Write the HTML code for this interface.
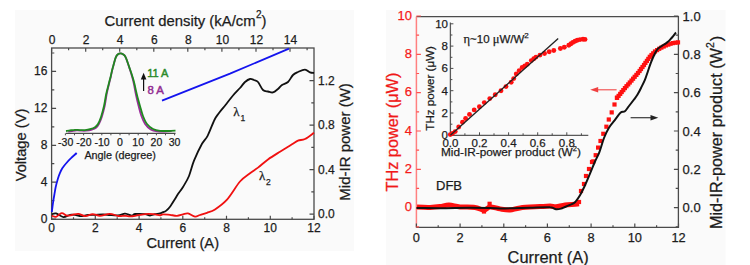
<!DOCTYPE html>
<html><head><meta charset="utf-8"><style>
html,body{margin:0;padding:0;background:#fff;}
svg{display:block;}
text{font-family:'Liberation Sans', sans-serif;stroke-width:0.25px;}
</style></head><body>
<svg width="750" height="265" viewBox="0 0 750 265">
<rect width="750" height="265" fill="#ffffff"/>
<rect x="15" y="10" width="339" height="241" fill="#fafafa"/>
<rect x="386" y="10" width="339.5" height="255" fill="#fafafa"/>
<rect x="51.6" y="48.0" width="262.4" height="171.3" fill="none" stroke="#4a4a4a" stroke-width="1.3"/>
<path d="M51.6,219.3 v-3.5 M73.5,219.3 v-2.0 M95.3,219.3 v-3.5 M117.2,219.3 v-2.0 M139.1,219.3 v-3.5 M160.9,219.3 v-2.0 M182.8,219.3 v-3.5 M204.7,219.3 v-2.0 M226.5,219.3 v-3.5 M248.4,219.3 v-2.0 M270.3,219.3 v-3.5 M292.1,219.3 v-2.0 M314.0,219.3 v-3.5 M51.6,48.0 v3.7 M68.6,48.0 v2.2 M85.7,48.0 v3.7 M102.7,48.0 v2.2 M119.7,48.0 v3.7 M136.8,48.0 v2.2 M153.8,48.0 v3.7 M170.8,48.0 v2.2 M187.8,48.0 v3.7 M204.9,48.0 v2.2 M221.9,48.0 v3.7 M238.9,48.0 v2.2 M256.0,48.0 v3.7 M273.0,48.0 v2.2 M290.0,48.0 v3.7 M307.1,48.0 v2.2 M51.6,219.1 h4.5 M51.6,200.6 h2.7 M51.6,182.2 h4.5 M51.6,163.7 h2.7 M51.6,145.3 h4.5 M51.6,126.8 h2.7 M51.6,108.3 h4.5 M51.6,89.9 h2.7 M51.6,71.4 h4.5 M51.6,53.0 h2.7 M314.0,214.2 h-4.5 M314.0,191.9 h-2.7 M314.0,169.7 h-4.5 M314.0,147.4 h-2.7 M314.0,125.2 h-4.5 M314.0,102.9 h-2.7 M314.0,80.7 h-4.5" stroke="#4a4a4a" stroke-width="1.2" fill="none"/>
<text x="51.6" y="232.3" font-size="12" text-anchor="middle" fill="#1c1c1c" stroke="#1c1c1c" >0</text>
<text x="95.3" y="232.3" font-size="12" text-anchor="middle" fill="#1c1c1c" stroke="#1c1c1c" >2</text>
<text x="139.1" y="232.3" font-size="12" text-anchor="middle" fill="#1c1c1c" stroke="#1c1c1c" >4</text>
<text x="182.8" y="232.3" font-size="12" text-anchor="middle" fill="#1c1c1c" stroke="#1c1c1c" >6</text>
<text x="226.5" y="232.3" font-size="12" text-anchor="middle" fill="#1c1c1c" stroke="#1c1c1c" >8</text>
<text x="270.3" y="232.3" font-size="12" text-anchor="middle" fill="#1c1c1c" stroke="#1c1c1c" >10</text>
<text x="314.0" y="232.3" font-size="12" text-anchor="middle" fill="#1c1c1c" stroke="#1c1c1c" >12</text>
<text x="52.1" y="43.8" font-size="12" text-anchor="middle" fill="#1c1c1c" stroke="#1c1c1c" >0</text>
<text x="86.2" y="43.8" font-size="12" text-anchor="middle" fill="#1c1c1c" stroke="#1c1c1c" >2</text>
<text x="120.2" y="43.8" font-size="12" text-anchor="middle" fill="#1c1c1c" stroke="#1c1c1c" >4</text>
<text x="154.3" y="43.8" font-size="12" text-anchor="middle" fill="#1c1c1c" stroke="#1c1c1c" >6</text>
<text x="188.3" y="43.8" font-size="12" text-anchor="middle" fill="#1c1c1c" stroke="#1c1c1c" >8</text>
<text x="222.4" y="43.8" font-size="12" text-anchor="middle" fill="#1c1c1c" stroke="#1c1c1c" >10</text>
<text x="256.5" y="43.8" font-size="12" text-anchor="middle" fill="#1c1c1c" stroke="#1c1c1c" >12</text>
<text x="290.5" y="43.8" font-size="12" text-anchor="middle" fill="#1c1c1c" stroke="#1c1c1c" >14</text>
<text x="47.4" y="222.8" font-size="12" text-anchor="end" fill="#1c1c1c" stroke="#1c1c1c" >0</text>
<text x="47.4" y="185.9" font-size="12" text-anchor="end" fill="#1c1c1c" stroke="#1c1c1c" >4</text>
<text x="47.4" y="149.0" font-size="12" text-anchor="end" fill="#1c1c1c" stroke="#1c1c1c" >8</text>
<text x="47.4" y="112.0" font-size="12" text-anchor="end" fill="#1c1c1c" stroke="#1c1c1c" >12</text>
<text x="47.4" y="75.1" font-size="12" text-anchor="end" fill="#1c1c1c" stroke="#1c1c1c" >16</text>
<text x="318.0" y="218.2" font-size="12" text-anchor="start" fill="#1c1c1c" stroke="#1c1c1c" >0.0</text>
<text x="318.0" y="173.7" font-size="12" text-anchor="start" fill="#1c1c1c" stroke="#1c1c1c" >0.4</text>
<text x="318.0" y="129.2" font-size="12" text-anchor="start" fill="#1c1c1c" stroke="#1c1c1c" >0.8</text>
<text x="318.0" y="84.7" font-size="12" text-anchor="start" fill="#1c1c1c" stroke="#1c1c1c" >1.2</text>
<text x="104.6" y="25.8" font-size="14.85" text-anchor="start" fill="#1c1c1c" stroke="#1c1c1c" >Current density (kA/cm<tspan font-size="10" dy="-7.6" dx="0.4">2</tspan><tspan dy="7.6" dx="0">)</tspan></text>
<text x="146.4" y="247.6" font-size="14.7" text-anchor="start" fill="#1c1c1c" stroke="#1c1c1c" >Current (A)</text>
<text transform="translate(26.3,145) rotate(-90)" font-size="14.7" text-anchor="middle" fill="#1c1c1c" stroke="#1c1c1c">Voltage (V)</text>
<text transform="translate(350.3,200.7) rotate(-90)" font-size="15" text-anchor="start" fill="#1c1c1c" stroke="#1c1c1c">Mid-IR power (W)</text>
<path d="M51.8,212.2 C52.0,210.7 52.6,205.9 53.0,203.0 C53.4,200.1 53.8,197.7 54.3,195.0 C54.8,192.3 55.1,189.7 55.7,187.0 C56.3,184.3 57.1,181.4 57.8,179.0 C58.5,176.6 59.2,174.6 60.0,172.8 C60.8,171.0 61.3,169.9 62.3,168.3 C63.3,166.8 64.5,165.2 66.0,163.5 C67.5,161.8 69.2,159.9 71.0,158.2 C72.8,156.4 75.8,153.9 76.7,153.0" stroke="#1414ee" stroke-width="1.8" fill="none"/>
<path d="M162,100.6 L230,73.7 L289,48.6" stroke="#1414ee" stroke-width="1.8" fill="none"/>
<path d="M51.8,214.3 C52.5,214.2 54.0,212.9 56.0,213.4 C58.0,213.9 61.2,216.9 63.5,217.1 C65.8,217.3 67.9,215.1 70.0,214.8 C72.1,214.5 74.2,214.9 76.0,215.1 C77.8,215.3 79.0,216.1 81.0,216.1 C83.0,216.1 85.7,215.2 88.0,215.0 C90.3,214.8 92.5,214.9 95.0,214.8 C97.5,214.7 100.5,214.4 103.0,214.4 C105.5,214.4 107.5,214.8 110.0,215.0 C112.5,215.2 115.5,215.6 118.0,215.4 C120.5,215.2 123.0,213.8 124.7,213.6 C126.4,213.4 126.8,214.0 128.0,214.3 C129.2,214.7 130.8,215.8 132.0,215.7 C133.2,215.7 132.8,214.3 135.0,214.0 C137.2,213.7 142.5,213.9 145.0,214.1 C147.5,214.4 148.3,215.5 150.0,215.5 C151.7,215.5 153.3,214.6 155.0,214.2 C156.7,213.9 158.7,213.7 160.0,213.4 C161.3,213.1 162.0,212.6 163.0,212.2 C164.0,211.8 164.8,211.8 166.0,210.9 C167.2,210.0 168.5,208.8 170.0,206.8 C171.5,204.8 173.7,201.1 175.0,199.0 C176.3,196.9 176.7,196.0 178.0,194.0 C179.3,192.0 181.2,190.0 183.0,187.0 C184.8,184.0 187.2,180.4 189.0,176.0 C190.8,171.6 191.8,166.1 194.0,160.7 C196.2,155.3 199.7,148.0 202.0,143.8 C204.3,139.7 205.5,139.8 207.6,135.8 C209.7,131.8 212.5,123.8 214.4,120.0 C216.3,116.2 217.2,115.5 219.0,113.0 C220.8,110.5 223.2,107.9 225.5,105.0 C227.8,102.1 230.6,98.3 233.0,95.5 C235.4,92.7 238.0,90.2 240.0,88.0 C242.0,85.8 243.3,83.5 245.0,82.0 C246.7,80.5 248.5,79.3 250.0,79.0 C251.5,78.7 252.7,79.5 254.0,80.0 C255.3,80.5 256.5,80.3 258.0,82.0 C259.5,83.7 261.3,88.4 263.0,90.0 C264.7,91.6 266.3,91.1 268.0,91.5 C269.7,91.9 271.3,92.8 273.0,92.4 C274.7,92.0 276.5,90.2 278.0,89.0 C279.5,87.8 280.3,86.2 282.0,85.0 C283.7,83.8 286.2,83.7 288.0,82.0 C289.8,80.3 291.3,76.7 293.0,75.0 C294.7,73.3 296.0,72.9 298.0,72.0 C300.0,71.1 303.0,69.5 305.0,69.6 C307.0,69.7 308.5,71.8 310.0,72.4 C311.5,73.0 313.3,72.9 314.0,73.0" stroke="#111" stroke-width="1.8" fill="none"/>
<path d="M51.8,215.6 C52.5,215.8 54.4,217.2 56.0,216.8 C57.6,216.4 59.9,213.3 61.7,213.1 C63.5,212.9 65.3,215.3 67.0,215.6 C68.7,215.9 70.1,215.3 72.0,215.0 C73.9,214.7 76.1,213.6 78.3,213.8 C80.5,214.0 82.8,216.1 85.2,216.1 C87.6,216.2 90.2,214.2 92.7,214.1 C95.2,214.1 97.2,215.9 100.0,215.8 C102.8,215.8 106.7,213.8 109.7,213.8 C112.8,213.8 115.8,215.7 118.3,216.0 C120.8,216.3 123.0,215.7 125.0,215.7 C127.0,215.8 128.3,216.3 130.0,216.3 C131.7,216.3 133.3,216.1 135.0,215.8 C136.7,215.6 137.8,215.1 140.0,214.8 C142.2,214.5 145.5,213.9 148.0,213.8 C150.5,213.7 153.0,214.1 155.0,214.3 C157.0,214.6 158.7,215.3 160.0,215.3 C161.3,215.3 161.3,214.4 163.0,214.3 C164.7,214.2 167.7,214.6 170.0,214.8 C172.3,215.1 174.8,215.9 177.0,215.8 C179.2,215.7 181.2,214.7 183.0,214.3 C184.8,213.9 186.0,213.0 188.0,213.4 C190.0,213.8 193.0,216.3 195.0,216.6 C197.0,216.9 198.0,215.6 200.0,215.0 C202.0,214.4 204.5,213.7 207.0,212.8 C209.5,211.9 211.7,211.6 215.0,209.4 C218.3,207.2 222.8,204.2 227.0,199.6 C231.2,194.9 236.2,185.9 240.0,181.5 C243.8,177.1 247.0,175.5 250.0,173.2 C253.0,170.9 255.0,169.9 258.0,167.6 C261.0,165.3 264.3,162.1 268.0,159.4 C271.7,156.8 276.0,154.2 280.0,151.7 C284.0,149.2 289.0,146.2 292.0,144.3 C295.0,142.5 295.8,141.5 298.0,140.6 C300.2,139.7 302.3,140.3 305.0,139.0 C307.7,137.7 312.5,133.8 314.0,132.7" stroke="#f01010" stroke-width="1.8" fill="none"/>
<text x="233.3" y="116.3" font-size="13" fill="#1c1c1c" stroke="#1c1c1c" ><tspan style="font-family:Liberation Serif">λ</tspan><tspan font-size="8.5" dy="4.8" dx="0.9">1</tspan></text>
<text x="259.0" y="180.2" font-size="13" fill="#1c1c1c" stroke="#1c1c1c" ><tspan style="font-family:Liberation Serif">λ</tspan><tspan font-size="8.5" dy="4.9" dx="0.6">2</tspan></text>
<path d="M66,133.3 H175.5" stroke="#4a4a4a" stroke-width="1.2"/>
<path d="M65.4,133.3 v2 M74.5,133.3 v2 M83.6,133.3 v2 M92.7,133.3 v2 M101.8,133.3 v2 M110.9,133.3 v2 M120.0,133.3 v2 M129.1,133.3 v2 M138.2,133.3 v2 M147.3,133.3 v2 M156.4,133.3 v2 M165.5,133.3 v2 M174.6,133.3 v2" stroke="#4a4a4a" stroke-width="1"/>
<text x="65.7" y="145.6" font-size="10.5" text-anchor="middle" fill="#1c1c1c" stroke="#1c1c1c" >-30</text>
<text x="83.9" y="145.6" font-size="10.5" text-anchor="middle" fill="#1c1c1c" stroke="#1c1c1c" >-20</text>
<text x="102.1" y="145.6" font-size="10.5" text-anchor="middle" fill="#1c1c1c" stroke="#1c1c1c" >-10</text>
<text x="120.0" y="145.6" font-size="10.5" text-anchor="middle" fill="#1c1c1c" stroke="#1c1c1c" >0</text>
<text x="138.2" y="145.6" font-size="10.5" text-anchor="middle" fill="#1c1c1c" stroke="#1c1c1c" >10</text>
<text x="156.4" y="145.6" font-size="10.5" text-anchor="middle" fill="#1c1c1c" stroke="#1c1c1c" >20</text>
<text x="174.6" y="145.6" font-size="10.5" text-anchor="middle" fill="#1c1c1c" stroke="#1c1c1c" >30</text>
<text x="84.4" y="158.7" font-size="10.8" text-anchor="start" fill="#1c1c1c" stroke="#1c1c1c" >Angle (degree)</text>
<path d="M68.2,131.6 C68.8,131.5 70.6,131.2 72.0,131.0 C73.5,130.8 75.2,130.5 76.8,130.4 C78.4,130.3 80.0,130.6 81.6,130.7 C83.2,130.8 84.8,130.8 86.4,130.7 C88.0,130.5 89.6,130.3 91.2,129.8 C92.8,129.3 94.7,128.8 96.0,127.8 C97.3,126.8 97.9,125.8 98.9,124.0 C99.9,122.2 100.8,120.0 101.8,117.0 C102.7,114.0 103.8,109.8 104.7,106.0 C105.5,102.2 106.0,97.6 106.7,94.0 C107.4,90.4 108.2,87.4 108.9,84.5 C109.6,81.6 110.1,79.5 110.8,76.7 C111.4,73.9 112.0,70.8 112.9,67.6 C113.7,64.4 114.9,59.5 115.8,57.3 C116.7,55.1 117.2,54.9 118.0,54.2 C118.8,53.6 119.6,53.4 120.4,53.4 C121.2,53.4 122.1,53.6 123.0,54.2 C123.9,54.9 124.7,55.1 125.7,57.3 C126.7,59.5 128.2,64.4 129.3,67.6 C130.4,70.8 131.4,74.0 132.1,76.7 C132.9,79.4 133.3,81.0 133.9,84.0 C134.5,87.0 135.2,91.3 136.0,95.0 C136.8,98.7 137.7,102.5 138.6,106.0 C139.5,109.5 140.3,113.0 141.4,116.0 C142.5,119.0 143.6,121.7 145.1,124.0 C146.7,126.3 148.7,128.4 150.7,129.6 C152.7,130.8 154.9,131.1 157.2,131.4 C159.6,131.7 162.3,131.6 164.7,131.6 C167.1,131.6 170.5,131.3 171.6,131.2" stroke="#9a2d9a" stroke-width="1.8" fill="none"/>
<path d="M66.0,131.0 C66.7,130.9 68.5,130.6 70.0,130.4 C71.5,130.2 73.3,129.9 75.0,129.8 C76.7,129.8 78.3,130.1 80.0,130.1 C81.7,130.1 83.3,130.2 85.0,130.1 C86.7,129.9 88.3,129.7 90.0,129.2 C91.7,128.7 93.7,128.1 95.0,127.2 C96.3,126.3 97.0,125.7 98.0,124.0 C99.0,122.3 100.0,120.0 101.0,117.0 C102.0,114.0 103.1,109.8 104.0,106.0 C104.9,102.2 105.4,97.6 106.2,94.0 C107.0,90.4 107.9,87.4 108.6,84.5 C109.3,81.6 109.9,79.5 110.6,76.7 C111.3,73.9 111.9,70.8 112.8,67.6 C113.7,64.4 114.9,59.5 115.8,57.3 C116.7,55.1 117.2,54.9 118.0,54.2 C118.8,53.6 119.6,53.4 120.4,53.4 C121.2,53.4 122.1,53.6 123.0,54.2 C123.9,54.9 124.6,55.1 125.7,57.3 C126.8,59.5 128.3,64.4 129.4,67.6 C130.5,70.8 131.7,74.0 132.5,76.7 C133.3,79.4 133.8,81.0 134.5,84.0 C135.2,87.0 136.1,91.3 137.0,95.0 C137.9,98.7 139.0,102.5 140.0,106.0 C141.0,109.5 141.8,113.0 143.0,116.0 C144.2,119.0 145.3,121.8 147.0,124.0 C148.7,126.2 150.8,127.9 153.0,129.0 C155.2,130.1 157.5,130.5 160.0,130.8 C162.5,131.1 165.4,131.0 168.0,131.0 C170.6,131.0 174.2,130.7 175.5,130.6" stroke="#1f8a1f" stroke-width="1.8" fill="none"/>
<path d="M143.6,91 V77" stroke="#111" stroke-width="1.2"/>
<path d="M140.8,79.5 L143.6,72.8 L146.4,79.5 Z" fill="#111"/>
<text x="147.2" y="77.4" font-size="11" text-anchor="start" fill="#2a8a2a" stroke="#2a8a2a" style="stroke-width:0.45px">11 A</text>
<text x="147.4" y="93.6" font-size="11.4" text-anchor="start" fill="#922c92" stroke="#922c92" style="stroke-width:0.45px">8 A</text>
<path d="M416.4,16.6 H678.4 V227.4 H416.4" stroke="#4a4a4a" stroke-width="1.3" fill="none"/>
<path d="M416.4,16.6 V227.4" stroke="#ff8080" stroke-width="1.5" fill="none"/>
<path d="M416.4,227.4 v-3.8 M438.2,227.4 v-2.2 M460.1,227.4 v-3.8 M481.9,227.4 v-2.2 M503.8,227.4 v-3.8 M525.6,227.4 v-2.2 M547.4,227.4 v-3.8 M569.3,227.4 v-2.2 M591.1,227.4 v-3.8 M613.0,227.4 v-2.2 M634.8,227.4 v-3.8 M656.6,227.4 v-2.2 M678.5,227.4 v-3.8 M678.4,226.8 h-2.7 M678.4,207.6 h-4.5 M678.4,188.4 h-2.7 M678.4,169.3 h-4.5 M678.4,150.1 h-2.7 M678.4,131.0 h-4.5 M678.4,111.8 h-2.7 M678.4,92.6 h-4.5 M678.4,73.5 h-2.7 M678.4,54.3 h-4.5 M678.4,35.2 h-2.7 M678.4,16.0 h-4.5" stroke="#4a4a4a" stroke-width="1.2" fill="none"/>
<path d="M416.4,226.8 h2.7 M416.4,207.6 h4.5 M416.4,188.4 h2.7 M416.4,169.3 h4.5 M416.4,150.1 h2.7 M416.4,131.0 h4.5 M416.4,111.8 h2.7 M416.4,92.6 h4.5 M416.4,73.5 h2.7 M416.4,54.3 h4.5 M416.4,35.2 h2.7 M416.4,16.0 h4.5" stroke="#ff5050" stroke-width="1.2" fill="none"/>
<text x="416.4" y="242.0" font-size="12.8" text-anchor="middle" fill="#1c1c1c" stroke="#1c1c1c" >0</text>
<text x="460.1" y="242.0" font-size="12.8" text-anchor="middle" fill="#1c1c1c" stroke="#1c1c1c" >2</text>
<text x="503.8" y="242.0" font-size="12.8" text-anchor="middle" fill="#1c1c1c" stroke="#1c1c1c" >4</text>
<text x="547.4" y="242.0" font-size="12.8" text-anchor="middle" fill="#1c1c1c" stroke="#1c1c1c" >6</text>
<text x="591.1" y="242.0" font-size="12.8" text-anchor="middle" fill="#1c1c1c" stroke="#1c1c1c" >8</text>
<text x="634.8" y="242.0" font-size="12.8" text-anchor="middle" fill="#1c1c1c" stroke="#1c1c1c" >10</text>
<text x="678.5" y="242.0" font-size="12.8" text-anchor="middle" fill="#1c1c1c" stroke="#1c1c1c" >12</text>
<text x="412.0" y="211.3" font-size="13" text-anchor="end" fill="#f51a1a" stroke="#f51a1a" >0</text>
<text x="412.0" y="173.0" font-size="13" text-anchor="end" fill="#f51a1a" stroke="#f51a1a" >2</text>
<text x="412.0" y="134.7" font-size="13" text-anchor="end" fill="#f51a1a" stroke="#f51a1a" >4</text>
<text x="412.0" y="96.3" font-size="13" text-anchor="end" fill="#f51a1a" stroke="#f51a1a" >6</text>
<text x="412.0" y="58.0" font-size="13" text-anchor="end" fill="#f51a1a" stroke="#f51a1a" >8</text>
<text x="412.0" y="19.7" font-size="13" text-anchor="end" fill="#f51a1a" stroke="#f51a1a" >10</text>
<text x="682.6" y="212.2" font-size="13" text-anchor="start" fill="#1c1c1c" stroke="#1c1c1c" >0.0</text>
<text x="682.6" y="173.9" font-size="13" text-anchor="start" fill="#1c1c1c" stroke="#1c1c1c" >0.2</text>
<text x="682.6" y="135.6" font-size="13" text-anchor="start" fill="#1c1c1c" stroke="#1c1c1c" >0.4</text>
<text x="682.6" y="97.2" font-size="13" text-anchor="start" fill="#1c1c1c" stroke="#1c1c1c" >0.6</text>
<text x="682.6" y="58.9" font-size="13" text-anchor="start" fill="#1c1c1c" stroke="#1c1c1c" >0.8</text>
<text x="682.6" y="20.6" font-size="13" text-anchor="start" fill="#1c1c1c" stroke="#1c1c1c" >1.0</text>
<text x="507.6" y="262.6" font-size="16.4" text-anchor="start" fill="#1c1c1c" stroke="#1c1c1c" >Current (A)</text>
<text transform="translate(398.2,191.5) rotate(-90)" font-size="16.3" fill="#f01818" stroke="#f01818">THz power (μW)</text>
<text transform="translate(721.7,229.0) rotate(-90)" font-size="16.2" fill="#1c1c1c" stroke="#1c1c1c">Mid-IR-power product (W<tspan font-size="10.5" dy="-8.2" dx="0.3">2</tspan><tspan dy="8.2" dx="0.8">)</tspan></text>
<text x="436.0" y="190.4" font-size="13" text-anchor="start" fill="#1c1c1c" stroke="#1c1c1c" >DFB</text>
<path d="M417.0,207.1 C419.2,207.2 426.2,207.5 430.0,207.4 C433.8,207.3 436.8,207.0 440.0,206.6 C443.2,206.2 445.7,205.0 449.0,205.1 C452.3,205.2 455.7,206.5 460.0,206.9 C464.3,207.3 471.0,206.9 475.0,207.4 C479.0,207.9 481.5,210.2 484.0,210.1 C486.5,210.0 487.3,207.1 490.0,206.9 C492.7,206.7 496.7,208.4 500.0,208.9 C503.3,209.4 506.7,210.1 510.0,209.9 C513.3,209.7 515.0,208.5 520.0,207.9 C525.0,207.3 535.0,206.9 540.0,206.6 C545.0,206.3 547.3,206.1 550.0,206.1 C552.7,206.1 553.5,207.0 556.0,206.8 C558.5,206.6 561.8,205.3 565.0,204.9 C568.2,204.5 572.7,204.4 575.0,204.2 C577.3,204.0 578.3,203.9 579.0,203.8" stroke="#ff1010" stroke-width="5.0" fill="none"/>
<rect x="487.5" y="201.7" width="4.2" height="4.2" fill="#ff1010"/>
<rect x="481.9" y="209.4" width="4.2" height="4.2" fill="#ff1010"/>
<rect x="576.9" y="199.9" width="4.2" height="4.2" fill="#ff1010"/>
<rect x="578.9" y="188.9" width="4.2" height="4.2" fill="#ff1010"/>
<rect x="581.9" y="181.9" width="4.2" height="4.2" fill="#ff1010"/>
<rect x="583.9" y="173.9" width="4.2" height="4.2" fill="#ff1010"/>
<rect x="586.9" y="166.9" width="4.2" height="4.2" fill="#ff1010"/>
<rect x="589.9" y="159.9" width="4.2" height="4.2" fill="#ff1010"/>
<rect x="591.2" y="159.3" width="4.2" height="4.2" fill="#ff1010"/>
<rect x="593.6" y="153.1" width="4.2" height="4.2" fill="#ff1010"/>
<rect x="596.0" y="145.5" width="4.2" height="4.2" fill="#ff1010"/>
<rect x="598.4" y="138.9" width="4.2" height="4.2" fill="#ff1010"/>
<rect x="601.2" y="131.7" width="4.2" height="4.2" fill="#ff1010"/>
<rect x="604.3" y="124.6" width="4.2" height="4.2" fill="#ff1010"/>
<rect x="606.7" y="117.4" width="4.2" height="4.2" fill="#ff1010"/>
<rect x="609.6" y="110.3" width="4.2" height="4.2" fill="#ff1010"/>
<rect x="612.4" y="102.4" width="4.2" height="4.2" fill="#ff1010"/>
<rect x="614.9" y="95.7" width="4.2" height="4.2" fill="#ff1010"/>
<rect x="614.9" y="95.7" width="4.2" height="4.2" fill="#ff1010"/>
<rect x="616.5" y="93.8" width="4.2" height="4.2" fill="#ff1010"/>
<rect x="618.1" y="91.8" width="4.2" height="4.2" fill="#ff1010"/>
<rect x="619.6" y="89.9" width="4.2" height="4.2" fill="#ff1010"/>
<rect x="621.2" y="88.0" width="4.2" height="4.2" fill="#ff1010"/>
<rect x="622.8" y="86.0" width="4.2" height="4.2" fill="#ff1010"/>
<rect x="624.4" y="84.1" width="4.2" height="4.2" fill="#ff1010"/>
<rect x="626.1" y="82.3" width="4.2" height="4.2" fill="#ff1010"/>
<rect x="627.7" y="80.4" width="4.2" height="4.2" fill="#ff1010"/>
<rect x="629.4" y="78.5" width="4.2" height="4.2" fill="#ff1010"/>
<rect x="631.0" y="76.6" width="4.2" height="4.2" fill="#ff1010"/>
<rect x="632.6" y="74.7" width="4.2" height="4.2" fill="#ff1010"/>
<rect x="634.3" y="72.8" width="4.2" height="4.2" fill="#ff1010"/>
<rect x="635.9" y="70.9" width="4.2" height="4.2" fill="#ff1010"/>
<rect x="637.5" y="68.9" width="4.2" height="4.2" fill="#ff1010"/>
<rect x="638.9" y="66.9" width="4.2" height="4.2" fill="#ff1010"/>
<rect x="640.4" y="64.9" width="4.2" height="4.2" fill="#ff1010"/>
<rect x="641.9" y="62.9" width="4.2" height="4.2" fill="#ff1010"/>
<rect x="643.3" y="60.8" width="4.2" height="4.2" fill="#ff1010"/>
<rect x="644.8" y="58.8" width="4.2" height="4.2" fill="#ff1010"/>
<rect x="646.2" y="56.8" width="4.2" height="4.2" fill="#ff1010"/>
<rect x="647.7" y="54.7" width="4.2" height="4.2" fill="#ff1010"/>
<rect x="649.4" y="52.9" width="4.2" height="4.2" fill="#ff1010"/>
<rect x="651.1" y="51.2" width="4.2" height="4.2" fill="#ff1010"/>
<rect x="652.9" y="49.4" width="4.2" height="4.2" fill="#ff1010"/>
<rect x="655.0" y="48.0" width="4.2" height="4.2" fill="#ff1010"/>
<rect x="657.1" y="46.7" width="4.2" height="4.2" fill="#ff1010"/>
<rect x="659.3" y="45.5" width="4.2" height="4.2" fill="#ff1010"/>
<rect x="661.6" y="44.4" width="4.2" height="4.2" fill="#ff1010"/>
<rect x="663.8" y="43.3" width="4.2" height="4.2" fill="#ff1010"/>
<rect x="666.2" y="42.5" width="4.2" height="4.2" fill="#ff1010"/>
<rect x="668.5" y="41.6" width="4.2" height="4.2" fill="#ff1010"/>
<rect x="670.9" y="41.0" width="4.2" height="4.2" fill="#ff1010"/>
<rect x="673.4" y="40.6" width="4.2" height="4.2" fill="#ff1010"/>
<rect x="675.9" y="40.3" width="4.2" height="4.2" fill="#ff1010"/>
<path d="M416.5,208.0 C420.4,208.0 431.1,208.2 440.0,208.2 C448.9,208.2 461.7,207.8 470.0,207.8 C478.3,207.8 484.2,207.9 490.0,208.0 C495.8,208.1 498.3,208.5 505.0,208.4 C511.7,208.3 522.5,207.9 530.0,207.7 C537.5,207.5 545.7,207.0 550.0,207.3 C554.3,207.5 554.2,209.0 556.0,209.2 C557.8,209.4 559.5,209.0 561.0,208.6 C562.5,208.2 563.5,207.6 565.0,207.0 C566.5,206.4 568.3,205.7 570.0,204.9 C571.7,204.1 573.3,203.8 575.0,202.2 C576.7,200.6 578.3,198.0 580.0,195.2 C581.7,192.4 583.3,188.9 585.0,185.3 C586.7,181.7 588.3,177.6 590.0,173.6 C591.7,169.6 593.5,165.0 595.0,161.5 C596.5,158.0 597.8,156.3 599.3,152.4 C600.8,148.5 602.4,142.1 604.0,138.0 C605.6,133.9 607.0,131.0 608.8,128.0 C610.6,125.0 612.8,122.8 614.8,120.2 C616.8,117.6 619.0,113.9 620.7,112.4 C622.4,110.9 623.5,112.3 624.9,111.2 C626.3,110.1 627.5,107.9 629.0,106.0 C630.5,104.1 632.2,101.9 633.6,100.0 C635.0,98.1 636.2,96.8 637.4,94.8 C638.6,92.8 639.8,90.5 641.0,88.0 C642.2,85.5 643.7,82.7 644.9,79.9 C646.1,77.1 647.0,73.9 648.0,71.0 C649.0,68.1 649.9,65.3 651.0,62.4 C652.1,59.5 653.6,56.0 654.8,53.7 C656.0,51.4 656.5,50.1 658.0,48.6 C659.5,47.1 661.9,46.0 663.6,44.8 C665.3,43.6 666.9,42.8 668.3,41.6 C669.7,40.4 670.7,39.0 672.0,37.5 C673.3,36.0 675.3,33.3 676.0,32.5" stroke="#111" stroke-width="2.0" fill="none"/>
<path d="M596,89.8 H616.6" stroke="#f04848" stroke-width="1.1"/>
<path d="M590.2,89.8 L598.2,87.0 L598.2,92.6 Z" fill="#f04040"/>
<path d="M630.6,117.7 H652" stroke="#383838" stroke-width="1.2"/>
<path d="M658.3,117.7 L650.5,114.9 L650.5,120.5 Z" fill="#222"/>
<path d="M450.4,22.5 V135.3 H588.3" stroke="#5a5a5a" stroke-width="1.3" fill="none"/>
<path d="M450.4,135.3 h3 M450.4,124.2 h2 M450.4,113.0 h3 M450.4,101.9 h2 M450.4,90.7 h3 M450.4,79.6 h2 M450.4,68.4 h3 M450.4,57.3 h2 M450.4,46.1 h3 M450.4,35.0 h2 M450.4,23.8 h3 M450.4,135.3 v-3 M464.9,135.3 v-2 M479.5,135.3 v-3 M494.0,135.3 v-2 M508.6,135.3 v-3 M523.1,135.3 v-2 M537.7,135.3 v-3 M552.2,135.3 v-2 M566.8,135.3 v-3 M581.4,135.3 v-2" stroke="#4a4a4a" stroke-width="1" fill="none"/>
<text x="448.0" y="139.3" font-size="11.5" text-anchor="end" fill="#1c1c1c" stroke="#1c1c1c" >0</text>
<text x="448.0" y="117.0" font-size="11.5" text-anchor="end" fill="#1c1c1c" stroke="#1c1c1c" >2</text>
<text x="448.0" y="94.7" font-size="11.5" text-anchor="end" fill="#1c1c1c" stroke="#1c1c1c" >4</text>
<text x="448.0" y="72.4" font-size="11.5" text-anchor="end" fill="#1c1c1c" stroke="#1c1c1c" >6</text>
<text x="448.0" y="50.1" font-size="11.5" text-anchor="end" fill="#1c1c1c" stroke="#1c1c1c" >8</text>
<text x="448.0" y="27.8" font-size="11.5" text-anchor="end" fill="#1c1c1c" stroke="#1c1c1c" >10</text>
<text x="450.4" y="146.8" font-size="11.5" text-anchor="middle" fill="#1c1c1c" stroke="#1c1c1c" >0.0</text>
<text x="479.5" y="146.8" font-size="11.5" text-anchor="middle" fill="#1c1c1c" stroke="#1c1c1c" >0.2</text>
<text x="508.6" y="146.8" font-size="11.5" text-anchor="middle" fill="#1c1c1c" stroke="#1c1c1c" >0.4</text>
<text x="537.7" y="146.8" font-size="11.5" text-anchor="middle" fill="#1c1c1c" stroke="#1c1c1c" >0.6</text>
<text x="566.8" y="146.8" font-size="11.5" text-anchor="middle" fill="#1c1c1c" stroke="#1c1c1c" >0.8</text>
<text transform="translate(434.4,130.7) rotate(-90)" font-size="11.6" fill="#1c1c1c" stroke="#1c1c1c">THz power (μW)</text>
<text x="441.0" y="155.5" font-size="11.8" text-anchor="start" fill="#1c1c1c" stroke="#1c1c1c" >Mid-IR-power product (W<tspan font-size="7.5" dy="-5">2</tspan><tspan dy="5">)</tspan></text>
<text x="463.5" y="43.0" font-size="11.5" text-anchor="start" fill="#1c1c1c" stroke="#1c1c1c" ><tspan style="font-family:Liberation Serif" font-size="12.5">η</tspan>~10 <tspan style="font-family:Liberation Serif" font-size="12.5">μ</tspan>W/W<tspan font-size="8" dy="-5.5">2</tspan></text>
<circle cx="450.3" cy="134.6" r="2.45" fill="#ff1010"/>
<circle cx="452.5" cy="133.5" r="2.45" fill="#ff1010"/>
<circle cx="455.2" cy="131.6" r="2.45" fill="#ff1010"/>
<circle cx="458.7" cy="127.0" r="2.45" fill="#ff1010"/>
<circle cx="462.5" cy="122.3" r="2.45" fill="#ff1010"/>
<circle cx="465.6" cy="118.5" r="2.45" fill="#ff1010"/>
<circle cx="469.5" cy="114.4" r="2.45" fill="#ff1010"/>
<circle cx="474.2" cy="109.9" r="2.45" fill="#ff1010"/>
<circle cx="479.4" cy="106.7" r="2.45" fill="#ff1010"/>
<circle cx="484.3" cy="102.6" r="2.45" fill="#ff1010"/>
<circle cx="489.8" cy="98.6" r="2.45" fill="#ff1010"/>
<circle cx="495.2" cy="94.7" r="2.45" fill="#ff1010"/>
<circle cx="501.0" cy="90.8" r="2.45" fill="#ff1010"/>
<circle cx="506.0" cy="86.6" r="2.45" fill="#ff1010"/>
<circle cx="511.2" cy="82.3" r="2.45" fill="#ff1010"/>
<circle cx="513.7" cy="78.6" r="2.45" fill="#ff1010"/>
<circle cx="516.3" cy="74.0" r="2.45" fill="#ff1010"/>
<circle cx="519.2" cy="70.6" r="2.45" fill="#ff1010"/>
<circle cx="522.2" cy="67.5" r="2.45" fill="#ff1010"/>
<circle cx="524.8" cy="66.0" r="2.45" fill="#ff1010"/>
<circle cx="527.3" cy="64.3" r="2.45" fill="#ff1010"/>
<circle cx="531.3" cy="60.6" r="2.45" fill="#ff1010"/>
<circle cx="533.8" cy="58.8" r="2.45" fill="#ff1010"/>
<circle cx="536.0" cy="57.1" r="2.45" fill="#ff1010"/>
<circle cx="540.0" cy="55.1" r="2.45" fill="#ff1010"/>
<circle cx="544.5" cy="53.5" r="2.45" fill="#ff1010"/>
<circle cx="549.2" cy="51.8" r="2.45" fill="#ff1010"/>
<circle cx="553.8" cy="50.5" r="2.45" fill="#ff1010"/>
<circle cx="560.4" cy="48.5" r="2.45" fill="#ff1010"/>
<circle cx="564.3" cy="47.2" r="2.45" fill="#ff1010"/>
<circle cx="568.8" cy="45.3" r="2.45" fill="#ff1010"/>
<circle cx="571.0" cy="43.8" r="2.45" fill="#ff1010"/>
<circle cx="572.8" cy="42.4" r="2.45" fill="#ff1010"/>
<circle cx="575.0" cy="41.2" r="2.45" fill="#ff1010"/>
<circle cx="577.3" cy="40.3" r="2.45" fill="#ff1010"/>
<circle cx="580.0" cy="39.6" r="2.45" fill="#ff1010"/>
<circle cx="583.0" cy="39.2" r="2.45" fill="#ff1010"/>
<circle cx="585.0" cy="39.4" r="2.45" fill="#ff1010"/>
<path d="M450.4,135.3 L558.2,38.6" stroke="#222" stroke-width="1.35"/>
</svg></body></html>
